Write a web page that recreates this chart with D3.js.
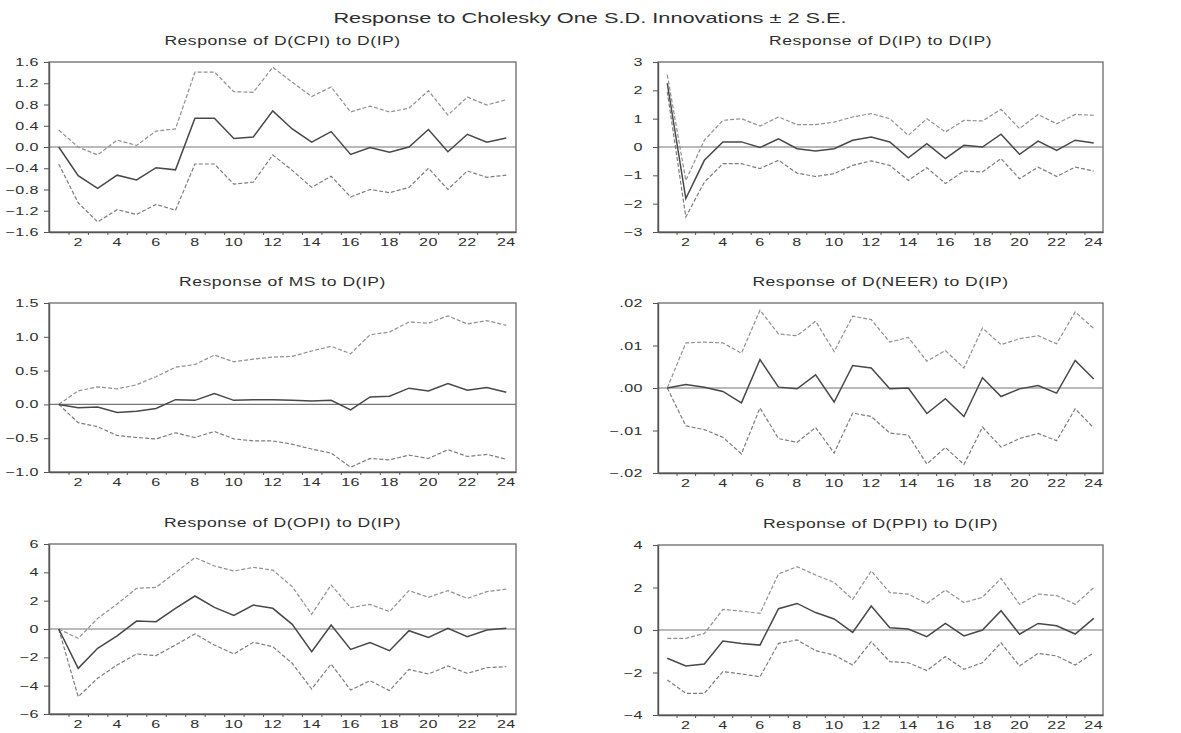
<!DOCTYPE html>
<html>
<head>
<meta charset="utf-8">
<script src="https://cdn.jsdelivr.net/npm/d3@7"></script>
<style>
  html, body { margin: 0; padding: 0; background: #fff; }
  svg { display: block; }
  text { font-family: "Liberation Sans", Arial, sans-serif; fill: #2e2e2e; }
</style>
</head>
<body>
<svg id="chart" width="1181" height="733"></svg>
<script>
// ---------- DATA ----------
const periods = d3.range(1, 25);
const xTickLabels = [2, 4, 6, 8, 10, 12, 14, 16, 18, 20, 22, 24];
const mainTitle = "Response to Cholesky One S.D. Innovations \u00B1 2 S.E.";
const panelTitles = [
  "Response of D(CPI) to D(IP)",
  "Response of D(IP) to D(IP)",
  "Response of MS to D(IP)",
  "Response of D(NEER) to D(IP)",
  "Response of D(OPI) to D(IP)",
  "Response of D(PPI) to D(IP)"
];

// D(CPI)
const cpiResp  = [0.00,-0.54,-0.78,-0.53,-0.62,-0.39,-0.43,0.54,0.54,0.16,0.19,0.68,0.34,0.09,0.29,-0.14,-0.01,-0.10,0.00,0.33,-0.09,0.24,0.09,0.17];
const cpiUpper = [0.32,0.00,-0.15,0.13,0.03,0.30,0.34,1.41,1.41,1.04,1.03,1.50,1.22,0.95,1.13,0.66,0.77,0.66,0.73,1.06,0.60,0.94,0.79,0.89];
const cpiLower = [-0.32,-1.05,-1.41,-1.18,-1.27,-1.08,-1.19,-0.32,-0.32,-0.70,-0.66,-0.15,-0.44,-0.76,-0.55,-0.94,-0.80,-0.86,-0.76,-0.40,-0.80,-0.45,-0.57,-0.53];
const cpiTicks = [-1.6,-1.2,-0.8,-0.4,0.0,0.4,0.8,1.2,1.6];

// D(IP)
const ipResp  = [2.25,-1.82,-0.47,0.18,0.18,-0.02,0.29,-0.06,-0.14,-0.06,0.24,0.35,0.18,-0.38,0.12,-0.41,0.06,0.00,0.45,-0.26,0.21,-0.12,0.24,0.14];
const ipUpper = [2.55,-1.18,0.24,0.94,1.00,0.74,1.06,0.79,0.79,0.88,1.06,1.18,1.00,0.41,1.00,0.53,0.94,0.92,1.33,0.65,1.15,0.82,1.15,1.12];
const ipLower = [1.95,-2.47,-1.24,-0.59,-0.59,-0.76,-0.47,-0.92,-1.04,-0.94,-0.65,-0.49,-0.65,-1.18,-0.73,-1.29,-0.85,-0.88,-0.41,-1.12,-0.71,-1.04,-0.71,-0.85];
const ipTicks = [-3,-2,-1,0,1,2,3];

// MS
const msResp  = [0.00,-0.05,-0.04,-0.12,-0.10,-0.06,0.07,0.06,0.16,0.06,0.07,0.07,0.06,0.05,0.06,-0.08,0.11,0.12,0.24,0.20,0.31,0.21,0.25,0.18];
const msUpper = [0.00,0.20,0.26,0.23,0.29,0.41,0.55,0.59,0.73,0.63,0.67,0.70,0.71,0.79,0.86,0.75,1.03,1.07,1.22,1.20,1.31,1.19,1.24,1.17];
const msLower = [0.00,-0.27,-0.33,-0.46,-0.49,-0.51,-0.42,-0.49,-0.40,-0.51,-0.54,-0.54,-0.59,-0.66,-0.72,-0.93,-0.80,-0.82,-0.75,-0.80,-0.67,-0.77,-0.74,-0.81];
const msTicks = [-1.0,-0.5,0.0,0.5,1.0,1.5];

// D(NEER)
const neerResp  = [0.0000,0.0008,0.0002,-0.0008,-0.0035,0.0067,0.0002,-0.0002,0.0031,-0.0033,0.0053,0.0047,-0.0002,0.0000,-0.0060,-0.0025,-0.0067,0.0024,-0.0020,-0.0002,0.0006,-0.0012,0.0065,0.0021];
const neerUpper = [0.0000,0.0106,0.0108,0.0106,0.0082,0.0183,0.0127,0.0123,0.0157,0.0086,0.0169,0.0161,0.0108,0.0119,0.0063,0.0088,0.0047,0.0141,0.0102,0.0116,0.0123,0.0104,0.0179,0.0140];
const neerLower = [0.0000,-0.0089,-0.0098,-0.0116,-0.0155,-0.0047,-0.0119,-0.0128,-0.0093,-0.0153,-0.0059,-0.0067,-0.0106,-0.0111,-0.0179,-0.0140,-0.0180,-0.0092,-0.0139,-0.0119,-0.0107,-0.0124,-0.0049,-0.0094];
const neerTicks = [-0.02,-0.01,0.00,0.01,0.02];

// D(OPI)
const opiResp  = [0.00,-2.78,-1.36,-0.49,0.56,0.52,1.46,2.33,1.53,0.96,1.69,1.46,0.33,-1.60,0.28,-1.44,-0.96,-1.53,-0.12,-0.59,0.05,-0.54,-0.07,0.05];
const opiUpper = [0.00,-0.66,0.75,1.76,2.87,2.94,3.98,5.04,4.45,4.09,4.35,4.16,2.99,1.04,3.11,1.51,1.74,1.22,2.71,2.24,2.71,2.16,2.64,2.82];
const opiLower = [0.00,-4.78,-3.48,-2.54,-1.76,-1.88,-1.13,-0.35,-1.13,-1.76,-0.94,-1.25,-2.42,-4.24,-2.47,-4.31,-3.65,-4.35,-2.85,-3.18,-2.61,-3.13,-2.73,-2.66];
const opiTicks = [-6,-4,-2,0,2,4,6];

// D(PPI)
const ppiResp  = [-1.33,-1.69,-1.60,-0.52,-0.63,-0.71,1.00,1.25,0.82,0.52,-0.11,1.13,0.11,0.05,-0.31,0.31,-0.28,0.00,0.91,-0.20,0.31,0.20,-0.19,0.55];
const ppiUpper = [-0.39,-0.39,-0.16,0.97,0.89,0.78,2.64,2.98,2.59,2.24,1.44,2.78,1.76,1.69,1.25,1.88,1.29,1.54,2.43,1.21,1.69,1.62,1.21,1.99];
const ppiLower = [-2.35,-2.98,-2.98,-1.96,-2.07,-2.20,-0.63,-0.47,-0.97,-1.18,-1.65,-0.55,-1.49,-1.54,-1.91,-1.25,-1.85,-1.54,-0.60,-1.69,-1.10,-1.22,-1.65,-1.07];
const ppiTicks = [-4,-2,0,2,4];

// ---------- LAYOUT / BUILD ----------
const fmt1 = d3.format(".1f");
const fmtInt = d3.format("d");
const fmtNeer = v => d3.format(".2f")(v).replace("0.", ".");

const panels = [
  { title: panelTitles[0], resp: cpiResp,  up: cpiUpper,  lo: cpiLower,  ticks: cpiTicks,  fmt: fmt1,    box: [49, 62, 516, 232],   lblGap: 10 },
  { title: panelTitles[1], resp: ipResp,   up: ipUpper,   lo: ipLower,   ticks: ipTicks,   fmt: fmtInt,  box: [658, 62, 1103, 232],  lblGap: 15 },
  { title: panelTitles[2], resp: msResp,   up: msUpper,   lo: msLower,   ticks: msTicks,   fmt: fmt1,    box: [49, 303, 516, 472],  lblGap: 10 },
  { title: panelTitles[3], resp: neerResp, up: neerUpper, lo: neerLower, ticks: neerTicks, fmt: fmtNeer, box: [658, 303, 1103, 473], lblGap: 15 },
  { title: panelTitles[4], resp: opiResp,  up: opiUpper,  lo: opiLower,  ticks: opiTicks,  fmt: fmtInt,  box: [49, 544, 516, 714],  lblGap: 10 },
  { title: panelTitles[5], resp: ppiResp,  up: ppiUpper,  lo: ppiLower,  ticks: ppiTicks,  fmt: fmtInt,  box: [658, 545, 1103, 715], lblGap: 15 }
];

const svg = d3.select("#chart");

function stretchedText(g, x, y, str, size, anchor, sx, spacing) {
  g.append("text")
    .attr("transform", `translate(${x},${y}) scale(${sx},1)`)
    .attr("text-anchor", anchor || "middle")
    .attr("font-size", size)
    .attr("letter-spacing", spacing || 0)
    .text(str);
}

stretchedText(svg, 590, 23, mainTitle, 14.5, "middle", 1.5, 0);

panels.forEach(p => {
  const [x0, y0, x1, y1] = p.box;
  const x = d3.scaleLinear().domain([0.5, 24.5]).range([x0, x1]);
  const y = d3.scaleLinear().domain(d3.extent(p.ticks)).range([y1, y0]);
  const g = svg.append("g");

  // title
  stretchedText(g, (x0 + x1) / 2, y0 - 17, p.title, 13.5, "middle", 1.3, 0.4);

  // frame
  g.append("rect")
    .attr("x", x0).attr("y", y0)
    .attr("width", x1 - x0).attr("height", y1 - y0)
    .attr("fill", "none").attr("stroke", "#6a6a6a").attr("stroke-width", 1.3);

  // zero line
  g.append("line")
    .attr("x1", x0).attr("x2", x1)
    .attr("y1", y(0)).attr("y2", y(0))
    .attr("stroke", "#777").attr("stroke-width", 1.1);

  // y axis
  const yAxis = d3.axisLeft(y).tickValues(p.ticks).tickFormat("").tickSize(5).tickSizeOuter(0);
  const ya = g.append("g").attr("transform", `translate(${x0},0)`).call(yAxis);
  ya.select(".domain").attr("stroke", "#555").attr("stroke-width", 1.4);
  ya.selectAll(".tick line").attr("stroke", "#555");
  p.ticks.forEach(t => stretchedText(g, x0 - p.lblGap, y(t) + 4, p.fmt(t), 11.5, "end", 1.4, 0.3));

  // x axis: ticks at interval boundaries, labels at even periods
  const boundaries = d3.range(1.5, 24.5, 1);
  const xAxis = d3.axisBottom(x).tickValues(boundaries).tickFormat("").tickSize(3).tickSizeOuter(0);
  const xa = g.append("g").attr("transform", `translate(0,${y1})`).call(xAxis);
  xa.select(".domain").attr("stroke", "#555").attr("stroke-width", 1.4);
  xa.selectAll(".tick line").attr("stroke", "#555");
  xTickLabels.forEach(t => stretchedText(g, x(t), y1 + 14, String(t), 11.5, "middle", 1.4, 0.3));

  // lines
  const line = d3.line().x((d, i) => x(periods[i])).y(d => y(d));
  g.append("path").datum(p.up).attr("d", line)
    .attr("fill", "none").attr("stroke", "#909090").attr("stroke-width", 1.2)
    .attr("stroke-dasharray", "4,2");
  g.append("path").datum(p.lo).attr("d", line)
    .attr("fill", "none").attr("stroke", "#7c7c7c").attr("stroke-width", 1.2)
    .attr("stroke-dasharray", "4,2");
  g.append("path").datum(p.resp).attr("d", line)
    .attr("fill", "none").attr("stroke", "#484848").attr("stroke-width", 1.5);
});
</script>
</body>
</html>
